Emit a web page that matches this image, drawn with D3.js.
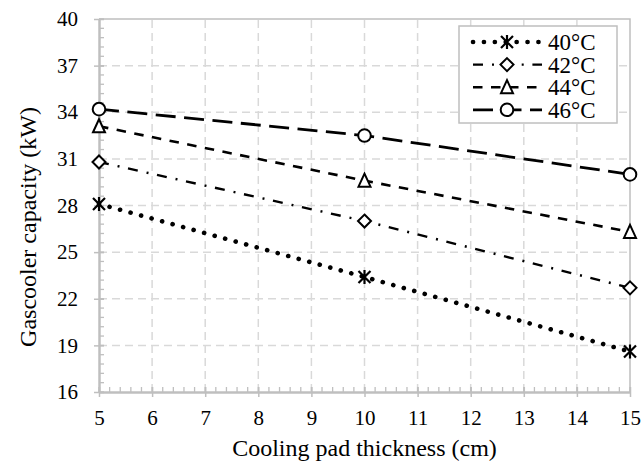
<!doctype html>
<meta charset="utf-8" />
<script src="https://cdn.jsdelivr.net/npm/d3@7"></script>
<style>
    body { margin: 0; background: white; }
    svg { display: block; }
    text { font-family: "Liberation Serif", "Times New Roman", serif; fill: #000; }
</style>
<svg id="chart"></svg>
<script>
    // data
    var thickness = [5, 10, 15];
    var series = ['40°C', '42°C', '44°C', '46°C'];
    var cap40 = [28.1, 23.4, 18.6];
    var cap42 = [30.8, 27.0, 22.7];
    var cap44 = [33.1, 29.6, 26.3];
    var cap46 = [34.2, 32.5, 30.0];
    var yTicks = [16, 19, 22, 25, 28, 31, 34, 37, 40];
    var xTicks = [5, 6, 7, 8, 9, 10, 11, 12, 13, 14, 15];

    var W = 643, H = 463;
    var m = { left: 99, right: 13, top: 19, bottom: 71 };

    var svg = d3.select('#chart').attr('width', W).attr('height', H);

    var x = d3.scaleLinear().domain([5, 15]).range([m.left, W - m.right]);
    var y = d3.scaleLinear().domain([16, 40]).range([H - m.bottom, m.top]);

    var grey = '#bfbfbf';

    // grid
    svg.append('g').selectAll('line')
        .data(xTicks.slice(1, -1))
        .enter().append('line')
        .attr('x1', d => x(d)).attr('x2', d => x(d))
        .attr('y1', y(16)).attr('y2', y(40))
        .attr('stroke', '#d9d9d9').attr('stroke-width', 1.5)
        .attr('stroke-dasharray', '8 5');
    svg.append('g').selectAll('line')
        .data(yTicks.slice(1, -1))
        .enter().append('line')
        .attr('x1', x(5)).attr('x2', x(15))
        .attr('y1', d => y(d)).attr('y2', d => y(d))
        .attr('stroke', '#d9d9d9').attr('stroke-width', 1.5)
        .attr('stroke-dasharray', '8 5');

    // frame top/right
    svg.append('path')
        .attr('d', `M${x(5)},${y(40)}H${x(15)}V${y(16)}`)
        .attr('fill', 'none').attr('stroke', grey).attr('stroke-width', 1.5);

    // minor ticks
    var xMinor = d3.range(5, 15.001, 0.2);
    var yMinor = d3.range(16, 40.001, 0.6);
    svg.append('g').selectAll('line').data(xMinor).enter().append('line')
        .attr('x1', d => x(d)).attr('x2', d => x(d))
        .attr('y1', y(16)).attr('y2', y(16) - 5)
        .attr('stroke', grey).attr('stroke-width', 1.3);
    svg.append('g').selectAll('line').data(yMinor).enter().append('line')
        .attr('x1', x(5)).attr('x2', x(5) + 5)
        .attr('y1', d => y(d)).attr('y2', d => y(d))
        .attr('stroke', grey).attr('stroke-width', 1.3);

    // axes
    var xAxis = svg.append('g')
        .attr('transform', `translate(0,${y(16)})`)
        .call(d3.axisBottom(x).tickValues(xTicks).tickSizeInner(5).tickSizeOuter(0).tickPadding(13));
    var yAxis = svg.append('g')
        .attr('transform', `translate(${x(5)},0)`)
        .call(d3.axisLeft(y).tickValues(yTicks).tickSizeInner(5).tickSizeOuter(0).tickPadding(16));
    [xAxis, yAxis].forEach(function (a) {
        a.attr('font-family', null).attr('font-size', null);
        a.select('.domain').attr('stroke', grey).attr('stroke-width', 2.5);
        a.selectAll('.tick line').attr('stroke', grey).attr('stroke-width', 1.5)
            .attr(a === xAxis ? 'y1' : 'x1', a === xAxis ? -5 : 5);
        a.selectAll('.tick text').style('font-size', '21px').attr('fill', '#000');
    });

    svg.append('text')
        .attr('x', (x(5) + x(15)) / 2).attr('y', 456)
        .attr('text-anchor', 'middle').style('font-size', '24px')
        .text('Cooling pad thickness (cm)');
    svg.append('text')
        .attr('transform', 'translate(36,227) rotate(-90)')
        .attr('text-anchor', 'middle').style('font-size', '24px')
        .text('Gascooler capacity (kW)');

    // series styles
    var values = [cap40, cap42, cap44, cap46];
    var styles = [
        { dash: '0.1 10.8', width: 4.6, cap: 'round', marker: 'star' },
        { dash: '10 9 2 8.7', width: 2.4, cap: 'butt', marker: 'diamond' },
        { dash: '9.5 8.5', width: 2.6, cap: 'butt', marker: 'triangle' },
        { dash: '20 8.5', width: 2.8, cap: 'butt', marker: 'circle' }
    ];

    function marker(g, type, cx, cy) {
        var s = g.append('path').attr('transform', `translate(${cx},${cy})`)
            .attr('fill', 'white').attr('stroke', '#000').attr('stroke-width', 2);
        if (type === 'circle') s.attr('d', d3.symbol(d3.symbolCircle, 125)());
        if (type === 'triangle') s.attr('d', 'M0,-7L6,6H-6Z');
        if (type === 'diamond') s.attr('d', 'M0,-6.5L6.5,0L0,6.5L-6.5,0Z');
        if (type === 'star') s.attr('fill', 'none').attr('stroke-width', 2.2)
            .attr('d', 'M0,-7V7M-6,-6L6,6M6,-6L-6,6');
    }

    var line = d3.line().x((d, i) => x(thickness[i])).y(d => y(d));

    values.forEach(function (vals, k) {
        var st = styles[k];
        var g = svg.append('g');
        g.append('path').datum(vals).attr('d', line)
            .attr('fill', 'none').attr('stroke', '#000')
            .attr('stroke-width', st.width).attr('stroke-dasharray', st.dash)
            .attr('stroke-linecap', st.cap);
        vals.forEach(function (v, i) { marker(g, st.marker, x(thickness[i]), y(v)); });
    });

    // legend
    var lg = svg.append('g').attr('transform', 'translate(459,26)');
    lg.append('rect').attr('width', 158).attr('height', 97)
        .attr('fill', 'white').attr('stroke', grey).attr('stroke-width', 1.5);
    series.forEach(function (name, k) {
        var st = styles[k], yy = 16 + k * 22.6;
        lg.append('line').attr('x1', 14).attr('x2', 83).attr('y1', yy).attr('y2', yy)
            .attr('stroke', '#000').attr('stroke-width', st.width)
            .attr('stroke-dasharray', st.dash).attr('stroke-linecap', st.cap);
        marker(lg, st.marker, 48, yy);
        lg.append('text').attr('x', 89).attr('y', yy + 8).style('font-size', '23px').text(name);
    });
</script>
